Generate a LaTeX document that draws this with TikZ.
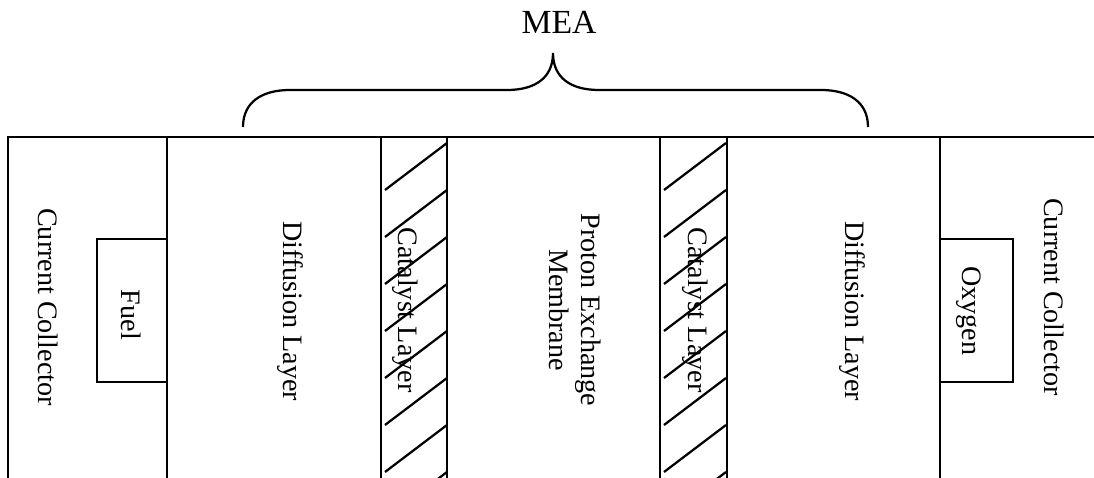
\documentclass[tikz,border=0pt]{standalone}
\usepackage{fontspec}
\setmainfont{Liberation Serif}
\begin{document}
\begin{tikzpicture}[x=0.025cm,y=-0.025cm]
\tikzset{wall/.style={line width=2.1pt},
  hatch/.style={line width=1.6pt},
  lbl/.style={rotate=-90, inner sep=0pt, align=center, font=\fontsize{20}{23}\selectfont}}
\useasboundingbox (0,0) rectangle (1094,478);
% frame of the cell
\draw[wall] (8,478) -- (8,137) -- (1094,137);
\foreach \x in {167,381,447,660,727,940} \draw[wall] (\x,137) -- (\x,478);
% gas channels
\draw[wall] (167,239) -- (97,239) -- (97,382) -- (167,382);
\draw[wall] (940,239) -- (1013,239) -- (1013,382) -- (940,382);
% catalyst hatching
\foreach \c in {381,660} {
  \begin{scope}
  \clip (\c,139) rectangle (\c+66,478);
  \foreach \y in {143,190,...,520} \draw[hatch] (\c+4,\y+47) -- (\c+66,\y);
  \end{scope}
}
% labels
\node[lbl] (ccA) at (48,307) {Current Collector};
\node[lbl] (fuel) at (131,315) {Fuel};
\node[lbl] (difA) at (290,311) {Diffusion Layer};
\node[lbl] (catA) at (405,310) {Catalyst Layer};
\node[lbl] (pem) at (575,310) {Proton Exchange\\Membrane};
\node[lbl] (catB) at (695,310) {Catalyst Layer};
\node[lbl] (difB) at (852,311) {Diffusion Layer};
\node[lbl] (oxy) at (969,311) {Oxygen};
\node[lbl] (ccB) at (1054,297) {Current Collector};
% MEA brace
\node[font=\fontsize{24}{28}\selectfont] (mea) at (559,22) {MEA};
\coordinate (tip) at (553,53);
\draw[line width=1.6pt] (243,127) .. controls (243,102) and (262,90) .. (290,90) -- (507,90)
  .. controls (535,90) and (553,78) .. (tip)
  .. controls (553,78) and (571,90) .. (599,90) -- (821,90)
  .. controls (849,90) and (868,102) .. (868,127);
\end{tikzpicture}
\end{document}
